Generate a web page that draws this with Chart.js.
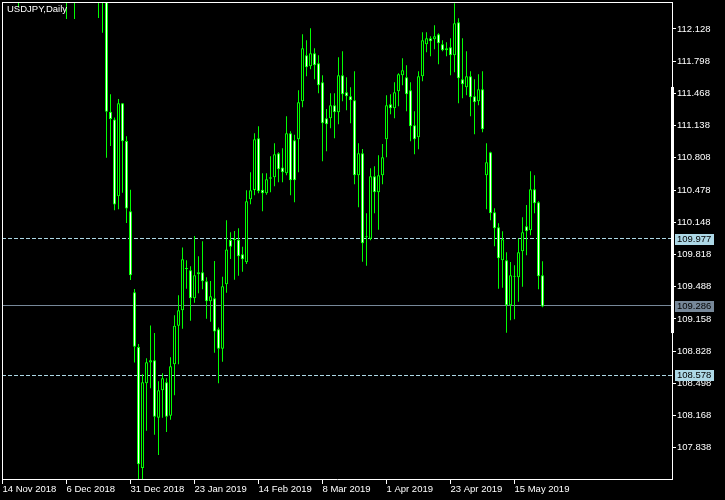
<!DOCTYPE html>
<html><head><meta charset="utf-8">
<script src="https://cdn.jsdelivr.net/npm/chart.js@4.4.1/dist/chart.umd.min.js"></script>
<style>html,body{margin:0;padding:0;background:#000;}canvas{display:block;}</style>
</head><body>
<canvas id="c" width="725" height="500"></canvas>
<script>
const CHART_TITLE = 'USDJPY,Daily';
// daily bars, index 0 = 14 Nov 2018
const OPEN = [113.92,113.61,113.59,112.83,112.55,112.82,113.00,112.95,112.95,113.56,113.78,113.68,113.45,113.50,113.60,112.77,113.18,112.70,112.68,113.32,113.35,113.60,113.60,113.38,112.85,112.53,
112.47,111.28,111.20,110.414,111.367,110.98,110.26,109.43,108.87,107.63,108.498,108.71,108.733,108.145,108.426,108.508,108.166,108.693,109.088,109.246,109.68,109.656,109.369,109.615,109.635,109.543,109.338,109.369,109.051,108.852,
109.512,109.966,109.966,109.97,109.82,109.737,110.383,110.478,111.008,110.482,110.445,110.594,110.608,110.855,110.71,110.65,111.059,110.988,110.998,111.387,111.859,111.746,111.879,111.777,111.582,111.213,111.213,111.346,111.275,111.654,111.479,111.438,111.397,110.629,110.855,109.994,109.98,110.619,110.455,110.629,
110.998,111.357,111.316,111.49,111.654,111.633,111.5,111.141,111.018,111.643,111.971,112.033,112.022,112.074,111.971,111.91,111.94,111.859,112.197,111.613,111.531,111.643,111.438,111.387,111.51,
110.629,110.865,110.25,110.096,109.758,109.758,109.297,109.60,109.584,109.85,110.106,110.065,110.486,110.352,109.604];
const HIGH = [114.05,113.78,113.62,112.88,112.90,113.10,113.08,113.04,113.60,113.85,114.03,113.70,113.65,113.82,113.70,113.35,113.25,113.06,113.38,113.55,113.70,113.71,113.70,113.40,112.95,112.67,
112.60,111.46,111.22,111.41,111.37,111.03,110.48,109.464,108.90,108.59,108.754,109.09,109.013,108.52,108.60,108.55,108.764,109.195,109.40,109.89,109.758,109.697,110.007,109.799,109.953,109.584,109.546,109.75,109.07,109.59,
110.168,110.045,110.058,110.086,109.898,110.475,110.66,111.059,111.131,110.65,110.65,110.824,110.957,110.865,110.906,111.233,111.08,111.045,111.5,112.074,112.012,112.135,111.93,111.859,111.654,111.308,111.469,111.469,111.838,111.9,111.633,111.53,111.695,110.957,110.898,110.24,110.701,110.721,110.834,110.95,
111.449,111.459,111.582,111.674,111.828,111.756,111.582,111.285,111.695,112.094,112.094,112.053,112.166,112.084,112.012,111.992,112.033,112.391,112.238,112.033,111.9,111.695,111.613,111.664,111.695,
110.957,110.87,110.291,110.137,110.055,109.84,109.74,109.707,109.98,110.199,110.325,110.67,110.629,110.363,109.748];
const LOW = [113.24,113.21,112.83,112.52,112.35,112.74,112.86,112.75,112.88,113.37,113.37,113.25,113.30,113.45,112.70,112.74,112.23,112.52,112.23,113.10,113.25,113.35,113.28,112.80,112.24,112.09,
110.81,110.93,110.27,110.28,110.45,110.14,109.556,108.71,104.87,107.45,108.012,108.447,107.97,107.763,108.145,108.0,108.125,108.375,108.693,109.057,109.467,109.139,109.323,109.42,109.461,109.16,109.129,108.81,108.498,108.719,
109.426,109.771,109.56,109.60,109.641,109.72,110.332,110.424,110.445,110.26,110.43,110.455,110.516,110.557,110.557,110.63,110.424,110.352,110.66,111.326,111.643,111.715,111.613,111.469,110.772,110.875,111.11,111.008,111.152,111.387,111.295,111.162,110.537,110.301,109.744,109.703,109.963,110.24,110.07,110.537,
110.813,111.254,111.213,111.336,111.551,111.285,110.977,110.844,110.895,111.592,111.889,111.848,111.92,111.766,111.9,111.848,111.654,111.684,111.367,111.418,111.45,111.234,111.049,111.346,111.07,
110.28,110.168,109.902,109.467,109.477,109.016,109.144,109.154,109.334,109.488,109.81,110.014,110.24,109.461,109.277];
const CLOSE = [113.61,113.59,112.83,112.55,112.82,113.00,112.95,112.95,113.56,113.78,113.68,113.45,113.48,113.60,112.77,113.18,112.70,112.68,113.32,113.35,113.60,113.60,113.38,112.85,112.53,112.47,
111.28,111.206,110.33,111.367,110.977,110.29,109.604,108.873,107.668,108.508,108.713,108.733,108.156,108.426,108.55,108.156,108.672,109.088,109.246,109.768,109.67,109.369,109.604,109.635,109.543,109.338,109.39,109.03,108.852,109.492,
109.87,109.898,109.97,109.799,109.768,110.363,110.475,110.998,110.465,110.445,110.588,110.608,110.844,110.69,110.66,111.059,110.578,110.578,111.377,111.93,111.736,111.879,111.756,111.551,111.162,111.152,111.346,111.275,111.654,111.459,111.438,111.397,110.629,110.855,109.932,110.004,110.619,110.455,110.629,110.813,
111.346,111.316,111.479,111.664,111.705,111.459,111.131,110.998,111.643,112.012,112.033,112.002,112.053,111.981,111.91,111.93,111.859,112.186,111.623,111.561,111.643,111.428,111.377,111.51,111.1,
110.762,110.24,110.086,109.779,109.973,109.297,109.604,109.59,109.84,110.045,110.055,110.486,110.342,109.594,109.286];
const TICK_INDEX = [0,16,32,48,64,80,96,112,128];
const TICK_LABELS = ['14 Nov 2018','6 Dec 2018','31 Dec 2018','23 Jan 2019','14 Feb 2019','8 Mar 2019','1 Apr 2019','23 Apr 2019','15 May 2019'];
const PRICE_TICKS = [112.128,111.798,111.468,111.138,110.808,110.478,110.148,109.818,109.488,109.158,108.828,108.498,108.168,107.838];
const PRICE_MIN = 107.5176, PRICE_MAX = 112.4046;
const LEVELS = [109.977, 108.578];
const BID = 109.286;
const SCALE_MARK = [111.534, 109.013];

const FONT = {family: 'Liberation Sans', size: 9.5};
const idx = OPEN.map((_, i) => i);
const wickData = idx.map(i => ({x: i, y: [LOW[i], HIGH[i]]}));
const bodyData = idx.map(i => ({x: i, y: [Math.min(OPEN[i], CLOSE[i]), Math.max(OPEN[i], CLOSE[i])]}));
const bodyFill = idx.map(i => CLOSE[i] > OPEN[i] ? '#000000' : '#ffffff');

const decor = {
  id: 'decor',
  beforeDraw(chart) {
    const c = chart.ctx;
    c.save(); c.fillStyle = '#000'; c.fillRect(0, 0, chart.width, chart.height); c.restore();
  },
  beforeDatasetsDraw(chart) {
    const {ctx, chartArea: a, scales: {y}} = chart;
    ctx.save();
    ctx.lineWidth = 1;
    ctx.strokeStyle = '#add8e6';
    ctx.setLineDash([4, 2]);
    LEVELS.forEach(v => {
      const py = Math.floor(y.getPixelForValue(v)) + 0.5;
      ctx.beginPath(); ctx.moveTo(a.left, py); ctx.lineTo(a.right, py); ctx.stroke();
    });
    ctx.setLineDash([]);
    ctx.strokeStyle = '#778899';
    const pb = Math.floor(y.getPixelForValue(BID)) - 0.5;
    ctx.beginPath(); ctx.moveTo(a.left, pb); ctx.lineTo(a.right, pb); ctx.stroke();
    ctx.restore();
  },
  afterDraw(chart) {
    const {ctx, chartArea: a, scales: {y}} = chart;
    ctx.save();
    ctx.fillStyle = '#fff';
    ctx.fillRect(a.left, a.top, 1, a.bottom - a.top);
    ctx.fillRect(a.left, a.top, a.right - a.left, 1);
    // scale marker on the price axis
    const m1 = y.getPixelForValue(SCALE_MARK[0]), m2 = y.getPixelForValue(SCALE_MARK[1]);
    ctx.fillRect(a.right - 1, m1, 3, m2 - m1);
    // title
    ctx.font = FONT.size + 'px ' + FONT.family;
    ctx.textBaseline = 'alphabetic';
    ctx.textAlign = 'left';
    ctx.fillText(CHART_TITLE, 7, 12);
    // price labels
    const box = (v, bg) => {
      const py = y.getPixelForValue(v);
      ctx.fillStyle = bg;
      ctx.fillRect(a.right + 3, Math.round(py) - 5, 39, 11);
      ctx.fillStyle = '#000';
      ctx.textBaseline = 'middle';
      ctx.fillText(v.toFixed(3), a.right + 5, Math.round(py) + 0.5);
    };
    LEVELS.forEach(v => box(v, '#add8e6'));
    box(BID, '#778899');
    ctx.restore();
  }
};

new Chart(document.getElementById('c'), {
  type: 'bar',
  data: {
    datasets: [
      {label: 'body', data: bodyData, order: 0, grouped: false, barThickness: 3, borderWidth: 1, borderSkipped: false,
       borderColor: '#00ff00', backgroundColor: bodyFill, minBarLength: 1, inflateAmount: 0},
      {label: 'wick', data: wickData, order: 1, grouped: false, barThickness: 1, borderWidth: 0,
       backgroundColor: '#00ff00', inflateAmount: 0}
    ]
  },
  options: {
    responsive: false,
    devicePixelRatio: 1,
    animation: false,
    layout: {padding: {left: 2, top: 2, right: 0, bottom: 0}},
    plugins: {legend: {display: false}, tooltip: {enabled: false}},
    scales: {
      x: {
        type: 'linear', offset: false,
        min: -0.125, max: 167.375,
        afterBuildTicks: s => { s.ticks = TICK_INDEX.map(v => ({value: v})); },
        afterFit: s => { s.height = 21; s.paddingLeft = 0; s.paddingRight = 0; },
        grid: {display: true, drawOnChartArea: false, drawTicks: true, tickLength: 5, color: '#fff', offset: false},
        border: {display: true, color: '#fff'},
        ticks: {color: '#fff', font: FONT, align: 'start', autoSkip: false, maxRotation: 0, minRotation: 0, padding: 0,
          callback: v => TICK_LABELS[TICK_INDEX.indexOf(v)]}
      },
      y: {
        type: 'linear', position: 'right',
        min: PRICE_MIN, max: PRICE_MAX,
        afterBuildTicks: s => { s.ticks = PRICE_TICKS.map(v => ({value: v})); },
        afterFit: s => { s.width = 53; s.paddingTop = 0; s.paddingBottom = 0; },
        grid: {display: true, drawOnChartArea: false, drawTicks: true, tickLength: 4, color: '#fff'},
        border: {display: true, color: '#fff'},
        ticks: {color: '#fff', font: FONT, padding: 1, autoSkip: false, callback: v => Number(v).toFixed(3)}
      }
    }
  },
  plugins: [decor]
});
</script>
</body></html>
